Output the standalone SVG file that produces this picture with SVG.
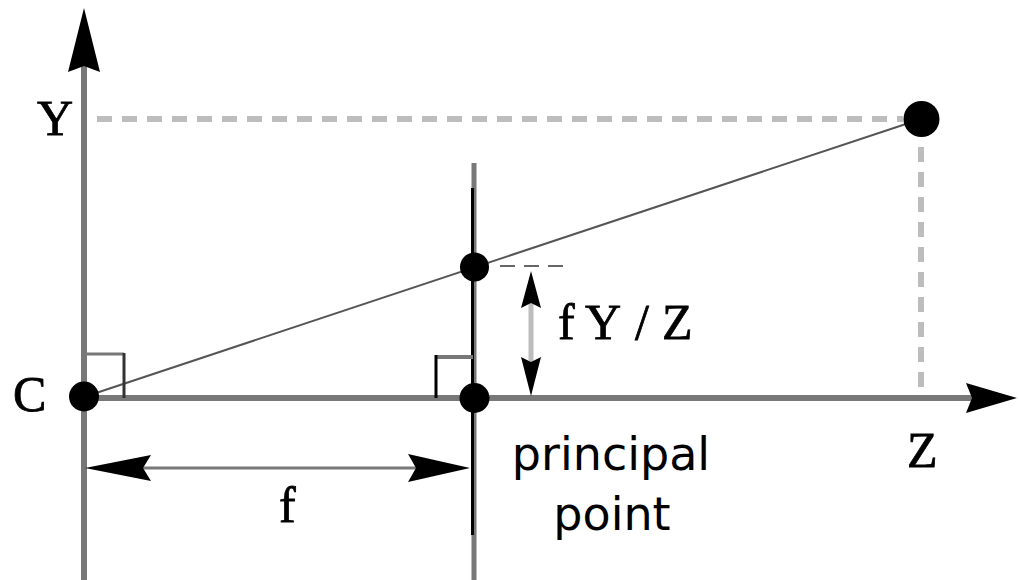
<svg xmlns="http://www.w3.org/2000/svg" width="1019" height="580" viewBox="0 0 1019 580">
<style>
.serif{font-family:"Liberation Serif","Times New Roman",serif;font-size:50px;fill:#000;stroke:#000;stroke-width:0.8}
.sans{font-family:"DejaVu Sans","Open Sans",sans-serif;font-size:46px;fill:#000}
.axis{stroke:#787878;stroke-width:6;fill:none}
.dash{stroke:#bdbdbd;stroke-width:6;stroke-dasharray:15 10;fill:none}
.head{fill:#000}
.dot{fill:#000}
</style>
<rect width="1019" height="580" fill="#fff"/>
<g id="connectors">
  <line class="axis" x1="84" y1="66" x2="84" y2="580"/>
  <polygon class="head" points="84,8 100,72 84,66 68,72"/>
  <line class="axis" x1="84" y1="398" x2="972" y2="398"/>
  <polygon class="head" points="1017,398 966,383 972,398 966,413"/>
  <line stroke="#787878" stroke-width="5" x1="474" y1="163" x2="474" y2="580"/>
  <line stroke="#000" stroke-width="3" x1="472.5" y1="188" x2="472.5" y2="535"/>
  <line stroke="#555" stroke-width="2" x1="84" y1="397" x2="921" y2="119"/>
  <line class="dash" x1="97" y1="119" x2="903" y2="119"/>
  <line class="dash" x1="921" y1="147" x2="921" y2="395"/>
  <line stroke="#666" stroke-width="2" stroke-dasharray="15 9" x1="500" y1="266" x2="566" y2="266"/>
  <polyline fill="none" stroke="#787878" stroke-width="3" points="84,354 124,354"/>
  <line stroke="#333" stroke-width="3" x1="124" y1="353" x2="124" y2="398"/>
  <polyline fill="none" stroke="#787878" stroke-width="4" points="436,357 473,357"/>
  <line stroke="#000" stroke-width="3" x1="436" y1="355" x2="436" y2="398"/>
  <line stroke="#bdbdbd" stroke-width="5" x1="531" y1="300" x2="531" y2="364"/>
  <polygon class="head" points="531,271 541,308 531,303 521,308"/>
  <polygon class="head" points="531,396 541,357 531,362 521,357"/>
  <line stroke="#787878" stroke-width="3" x1="140" y1="468" x2="420" y2="468"/>
  <polygon class="head" points="85,468 151,455 143,468 151,481"/>
  <polygon class="head" points="470,468 408,454 416,468 408,482"/>
</g>
<g id="node-C">
  <circle class="dot" cx="84" cy="396.5" r="15"/>
  <text class="serif" x="13" y="411">C</text>
</g>
<g id="node-principal-point">
  <circle class="dot" cx="474.5" cy="398" r="15"/>
  <text class="sans" text-anchor="middle" x="611" y="470">principal</text>
  <text class="sans" text-anchor="middle" x="612" y="530">point</text>
</g>
<g id="node-image-point">
  <circle class="dot" cx="474.5" cy="267" r="14.5"/>
</g>
<g id="node-point">
  <circle class="dot" cx="921.5" cy="119" r="18"/>
</g>
<g id="labels">
  <text class="serif" x="37" y="135">Y</text>
  <text class="serif" x="907" y="467">Z</text>
  <text class="serif" x="279" y="522">f</text>
  <text class="serif" x="558 585 635 662" y="339">fY/Z</text>
</g>
</svg>
